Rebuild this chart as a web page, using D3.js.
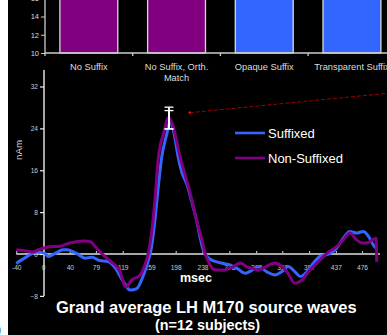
<!DOCTYPE html>
<html><head><meta charset="utf-8">
<script src="https://cdn.jsdelivr.net/npm/d3@7"></script>
<style>
body{margin:0;background:#fff;}
svg{display:block;font-family:"Liberation Sans",Arial,sans-serif;}
</style>
</head><body>
<svg id="c" width="387" height="335"></svg>
<script>
// ---- top bar chart data ----
const barCategories = ["No Suffix", "No Suffix, Orth.|Match", "Opaque Suffix", "Transparent Suffix"];
const barValues = [17, 17, 17, 17];
const barColors = ["#800080", "#800080", "#3366ff", "#3366ff"];
const barTicks = [10, 12, 14, 16];

// ---- bottom wave chart data ----
const xTicks = [-40, 0, 40, 79, 119, 159, 198, 238, 278, 318, 357, 397, 437, 476];
const yTicks = [-8, 0, 8, 16, 24, 32];
const suffixedTime = [-40,-24,-9,3,8,18,30,36,50,63,73,83,98,108,120,130,140,147,155,162,167,170,177,185,189,195,202,207,215,222,229,239,247,259,269,279,289,302,312,321,334,346,356,366,376,384,394,403,413,428,438,448,458,468,478,486,493,497];
const suffixedValues = [-1.8,-0.5,0.4,0.1,-0.5,0.1,0.8,0.8,0.1,-0.8,-0.6,-1.2,-1.5,-2.7,-5.3,-6.9,-6.6,-5.0,-2.1,1.4,6.5,10.3,18.4,23.1,25.3,23.4,18.3,15.7,13.2,10.0,6.5,0.8,-0.8,-1.5,-1.8,-2.1,-2.7,-3.7,-3.1,-2.4,-3.4,-4.0,-3.4,-2.4,-3.4,-4.3,-3.4,-1.8,-0.5,0.1,1.1,3.0,4.3,4.0,4.3,3.3,1.7,1.1];
const nonSuffixedTime = [-40,-27,-15,-5,10,25,40,60,70,80,90,102,115,122,124,132,145,152,157,162,167,172,180,187,194,200,205,212,219,229,237,242,247,254,269,284,294,304,311,321,334,346,354,364,376,386,398,413,426,438,448,458,468,476,483,493,497,498];
const nonSuffixedValues = [0.8,0.6,0.4,0.9,1.4,1.5,2.1,2.5,2.4,1.1,-0.2,-1.5,-3.4,-6.1,-6.3,-5.0,-4.0,-2.1,0.1,4.0,10.3,18.3,23.1,26.0,24.5,21.2,18.3,15.1,11.9,6.5,2.7,0.1,-1.5,-2.9,-3.1,-2.4,-1.7,-2.4,-2.7,-3.1,-2.3,-1.7,-2.1,-3.4,-5.6,-5.0,-3.1,-1.2,0.4,1.4,2.7,4.0,2.7,2.1,2.1,2.8,3.0,-1.5];
const seriesNames = ["Suffixed", "Non-Suffixed"];
const seriesColors = ["#3366ff", "#800080"];
const errTime = [188, 188];
const errLow = [23.9, 23.9];
const errHigh = [27.4, 28.05];
const annoStart = [219, 27.0];
const annoEnd = [526, 30.85];

const svg = d3.select("#c");
svg.append("rect").attr("x", 8).attr("y", 0).attr("width", 379).attr("height", 335).attr("fill", "#000");
svg.append("text").attr("x", -4).attr("y", 335).attr("font-size", 16).attr("fill", "#000").text(")");

// ===== top bar chart =====
const xb = d3.scaleBand().domain(barCategories).range([45, 395.8]).paddingInner(0.34).paddingOuter(0.17);
const yb = d3.scaleLinear().domain([10, 14]).range([53, 16.5]);
const topG = svg.append("g");
topG.selectAll("rect.bar").data(barCategories).join("rect")
  .attr("x", d => xb(d)).attr("width", xb.bandwidth())
  .attr("y", (d, i) => yb(barValues[i])).attr("height", (d, i) => yb(10) - yb(barValues[i]))
  .attr("fill", (d, i) => barColors[i]).attr("stroke", "#d8d8d8").attr("stroke-width", 1.3);
// y axis
const yAxB = topG.append("g").attr("transform", "translate(45,0)")
  .call(d3.axisLeft(yb).tickValues(barTicks).tickSize(4).tickPadding(2).tickFormat(d3.format("d")));
yAxB.select(".domain").remove();
yAxB.selectAll("line").attr("stroke", "#ccc");
yAxB.selectAll("text").attr("fill", "#ddd").attr("font-size", 7.5).attr("font-family", "Liberation Sans, Arial");
topG.append("line").attr("x1", 45).attr("x2", 45).attr("y1", 0).attr("y2", 56).attr("stroke", "#ccc").attr("stroke-width", 1.3);
topG.append("line").attr("x1", 45).attr("x2", 387).attr("y1", yb(10)).attr("y2", yb(10)).attr("stroke", "#ccc").attr("stroke-width", 1.5);
barCategories.slice(1).forEach(c => {
  const bx = xb(c) - xb.step() * xb.paddingInner() / 2;
  topG.append("line").attr("x1", bx).attr("x2", bx).attr("y1", yb(10)).attr("y2", yb(10) + 3).attr("stroke", "#ccc").attr("stroke-width", 1.3);
});
barCategories.forEach(c => {
  const lines = c.split("|");
  const t = topG.append("text").attr("x", xb(c) + xb.bandwidth() / 2).attr("y", 70)
    .attr("text-anchor", "middle").attr("font-size", 9.3).attr("fill", "#ddd");
  lines.forEach((l, i) => t.append("tspan").attr("x", xb(c) + xb.bandwidth() / 2).attr("dy", i ? 10.5 : 0).text(l));
});

// ===== bottom wave chart =====
const x = d3.scaleLinear().domain([-40, 476]).range([16.2, 362]);
const y = d3.scaleLinear().domain([0, 32]).range([254, 86.5]);
const g = svg.append("g");

// zero axis
g.append("line").attr("x1", x(-40)).attr("x2", 380).attr("y1", y(0)).attr("y2", y(0)).attr("stroke", "#a8a8a8").attr("stroke-width", 2);
const xAx = g.append("g").attr("transform", `translate(0,${y(0)})`)
  .call(d3.axisBottom(x).tickValues(xTicks).tickSize(-3).tickPadding(11).tickFormat(d => d));
xAx.select(".domain").remove();
xAx.selectAll("line").attr("stroke", "#bbb").attr("stroke-width", 1.2);
xAx.selectAll("text").attr("fill", "#ccc").attr("font-size", 6.6).attr("font-family", "Liberation Sans, Arial");

// y axis
g.append("line").attr("x1", x(0) + 1).attr("x2", x(0) + 1).attr("y1", 70).attr("y2", y(-8)).attr("stroke", "#eee").attr("stroke-width", 1.4);
const yAx = g.append("g").attr("transform", `translate(${x(0) + 1},0)`)
  .call(d3.axisLeft(y).tickValues(yTicks).tickSize(4).tickPadding(2));
yAx.select(".domain").remove();
yAx.selectAll("line").attr("stroke", "#eee").attr("stroke-width", 1.2);
yAx.selectAll("text").attr("fill", "#ccc").attr("font-size", 6.6).attr("font-family", "Liberation Sans, Arial");

// axis titles
g.append("text").attr("transform", "translate(21.5,150) rotate(-90)").attr("text-anchor", "middle")
  .attr("font-size", 9.7).attr("fill", "#ddd").text("nAm");
g.append("text").attr("x", 180).attr("y", 282).attr("font-size", 12.5).attr("font-weight", "bold").attr("fill", "#fff").text("msec");

// lines
const line = d3.line().x(d => x(d[0])).y(d => y(d[1])).curve(d3.curveMonotoneX);
const series = [d3.zip(suffixedTime, suffixedValues), d3.zip(nonSuffixedTime, nonSuffixedValues)];
series.forEach((s, i) => {
  g.append("path").attr("d", line(s)).attr("fill", "none").attr("stroke", seriesColors[i])
    .attr("stroke-width", 3).attr("stroke-linejoin", "round");
});

// error bars
errTime.forEach((t, i) => {
  const cx = x(t);
  g.append("line").attr("x1", cx).attr("x2", cx).attr("y1", y(errHigh[i])).attr("y2", y(errLow[i])).attr("stroke", "#fff").attr("stroke-width", 1.8);
  [errHigh[i], errLow[i]].forEach(v => {
    g.append("line").attr("x1", cx - 4.5).attr("x2", cx + 4.5).attr("y1", y(v)).attr("y2", y(v)).attr("stroke", "#fff").attr("stroke-width", 1.3);
  });
});

// annotation pointer
g.append("line").attr("x1", x(annoStart[0])).attr("y1", y(annoStart[1])).attr("x2", x(annoEnd[0])).attr("y2", y(annoEnd[1]))
  .attr("stroke", "#a00000").attr("stroke-width", 1).attr("stroke-dasharray", "4,2");
g.append("rect").attr("x", x(annoStart[0]) - 1.2).attr("y", y(annoStart[1]) - 1.2).attr("width", 2.4).attr("height", 2.4).attr("fill", "#ff0000");

// legend
seriesNames.forEach((n, i) => {
  const ly = 133 + i * 25;
  g.append("line").attr("x1", 235).attr("x2", 265).attr("y1", ly).attr("y2", ly).attr("stroke", seriesColors[i]).attr("stroke-width", 2.6);
  g.append("text").attr("x", 268).attr("y", ly + 4.5).attr("font-size", 13).attr("fill", "#fff").text(n);
});

// title
svg.append("text").attr("x", 206.3).attr("y", 313).attr("text-anchor", "middle").attr("font-size", 16.5)
  .attr("font-weight", "bold").attr("fill", "#fff").text("Grand average LH M170 source waves");
svg.append("text").attr("x", 207.5).attr("y", 330).attr("text-anchor", "middle").attr("font-size", 14.4)
  .attr("font-weight", "bold").attr("fill", "#fff").text("(n=12 subjects)");
</script>
</body></html>
